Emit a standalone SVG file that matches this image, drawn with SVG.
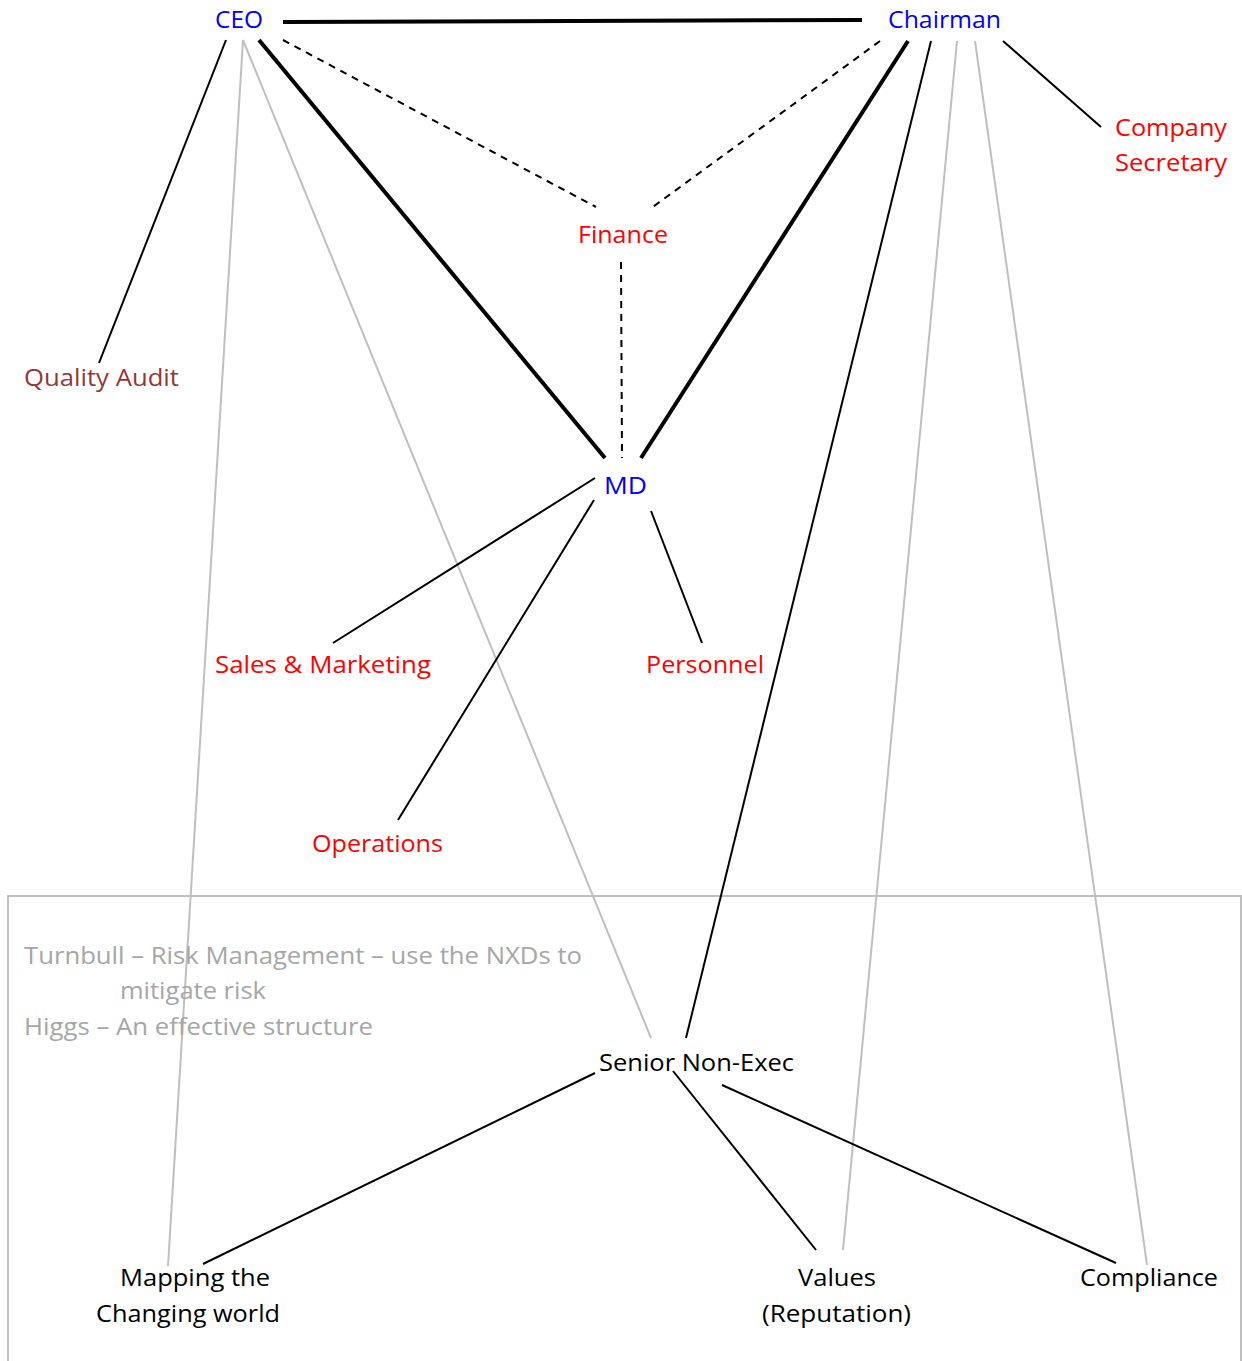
<svg xmlns="http://www.w3.org/2000/svg" width="1242" height="1361" viewBox="0 0 1242 1361">
<style>
text{font-family:"Open Sans","Noto Sans","Liberation Sans",sans-serif;font-size:24.5px}
.blue{fill:#0000FF}.red{fill:#FF0000}.dred{fill:#953735}.blk{fill:#000}.gt{fill:#A6A6A6}
.thick{stroke:#000;stroke-width:4;fill:none}
.thin{stroke:#000;stroke-width:2;fill:none}
.dash{stroke:#000;stroke-width:2;stroke-dasharray:7,6;fill:none}
.gray{stroke:#BFBFBF;stroke-width:2;fill:none}
</style>
<rect x="8" y="896" width="1233" height="480" fill="none" stroke="#BFBFBF" stroke-width="2"/>
<g id="connectors">
<line class="thick" x1="283" y1="22" x2="862" y2="20"/>
<line class="thin" x1="226" y1="40" x2="99" y2="363"/>
<line class="gray" x1="243" y1="40" x2="168" y2="1266"/>
<line class="gray" x1="243" y1="40" x2="651" y2="1038"/>
<line class="thick" x1="259" y1="40" x2="605" y2="458"/>
<line class="dash" x1="283" y1="40" x2="596" y2="207"/>
<line class="dash" x1="880" y1="41" x2="650" y2="209"/>
<line class="thick" x1="908" y1="41" x2="641" y2="458"/>
<line class="thin" x1="931" y1="41" x2="686" y2="1038"/>
<line class="gray" x1="957" y1="41" x2="843" y2="1250"/>
<line class="gray" x1="975" y1="41" x2="1147" y2="1265"/>
<line class="thin" x1="1003" y1="41" x2="1101" y2="127"/>
<line class="dash" x1="621" y1="262" x2="622" y2="458"/>
<line class="thin" x1="595" y1="478" x2="333" y2="643"/>
<line class="thin" x1="594" y1="500" x2="398" y2="820"/>
<line class="thin" x1="651" y1="511" x2="702" y2="643"/>
<line class="thin" x1="595" y1="1073" x2="203" y2="1264"/>
<line class="thin" x1="673" y1="1071" x2="816" y2="1250"/>
<line class="thin" x1="722" y1="1085" x2="1116" y2="1263"/>
</g>
<g id="ceo"><text class="blue" x="215" y="28" textLength="48" lengthAdjust="spacingAndGlyphs">CEO</text></g>
<g id="chairman"><text class="blue" x="888" y="28" textLength="113" lengthAdjust="spacingAndGlyphs">Chairman</text></g>
<g id="company-secretary"><text class="red" x="1115" y="136" textLength="112" lengthAdjust="spacingAndGlyphs">Company</text><text class="red" x="1115" y="171" textLength="112" lengthAdjust="spacingAndGlyphs">Secretary</text></g>
<g id="finance"><text class="red" x="578" y="243" textLength="90" lengthAdjust="spacingAndGlyphs">Finance</text></g>
<g id="quality-audit"><text class="dred" x="24" y="386" textLength="155" lengthAdjust="spacingAndGlyphs">Quality Audit</text></g>
<g id="md"><text class="blue" x="604" y="494" textLength="43" lengthAdjust="spacingAndGlyphs">MD</text></g>
<g id="sales-marketing"><text class="red" x="215" y="673" textLength="216" lengthAdjust="spacingAndGlyphs">Sales &amp; Marketing</text></g>
<g id="personnel"><text class="red" x="646" y="673" textLength="118" lengthAdjust="spacingAndGlyphs">Personnel</text></g>
<g id="operations"><text class="red" x="312" y="852" textLength="131" lengthAdjust="spacingAndGlyphs">Operations</text></g>
<g id="notes"><text class="gt" x="24" y="964" textLength="558" lengthAdjust="spacingAndGlyphs">Turnbull – Risk Management – use the NXDs to</text><text class="gt" x="120" y="999" textLength="146" lengthAdjust="spacingAndGlyphs">mitigate risk</text><text class="gt" x="24" y="1035" textLength="349" lengthAdjust="spacingAndGlyphs">Higgs – An effective structure</text></g>
<g id="senior-non-exec"><text class="blk" x="599" y="1071" textLength="195" lengthAdjust="spacingAndGlyphs">Senior Non-Exec</text></g>
<g id="mapping"><text class="blk" x="120" y="1286" textLength="150" lengthAdjust="spacingAndGlyphs">Mapping the</text><text class="blk" x="96" y="1322" textLength="184" lengthAdjust="spacingAndGlyphs">Changing world</text></g>
<g id="values"><text class="blk" x="798" y="1286" textLength="78" lengthAdjust="spacingAndGlyphs">Values</text><text class="blk" x="762" y="1322" textLength="149" lengthAdjust="spacingAndGlyphs">(Reputation)</text></g>
<g id="compliance"><text class="blk" x="1080" y="1286" textLength="138" lengthAdjust="spacingAndGlyphs">Compliance</text></g>
</svg>
